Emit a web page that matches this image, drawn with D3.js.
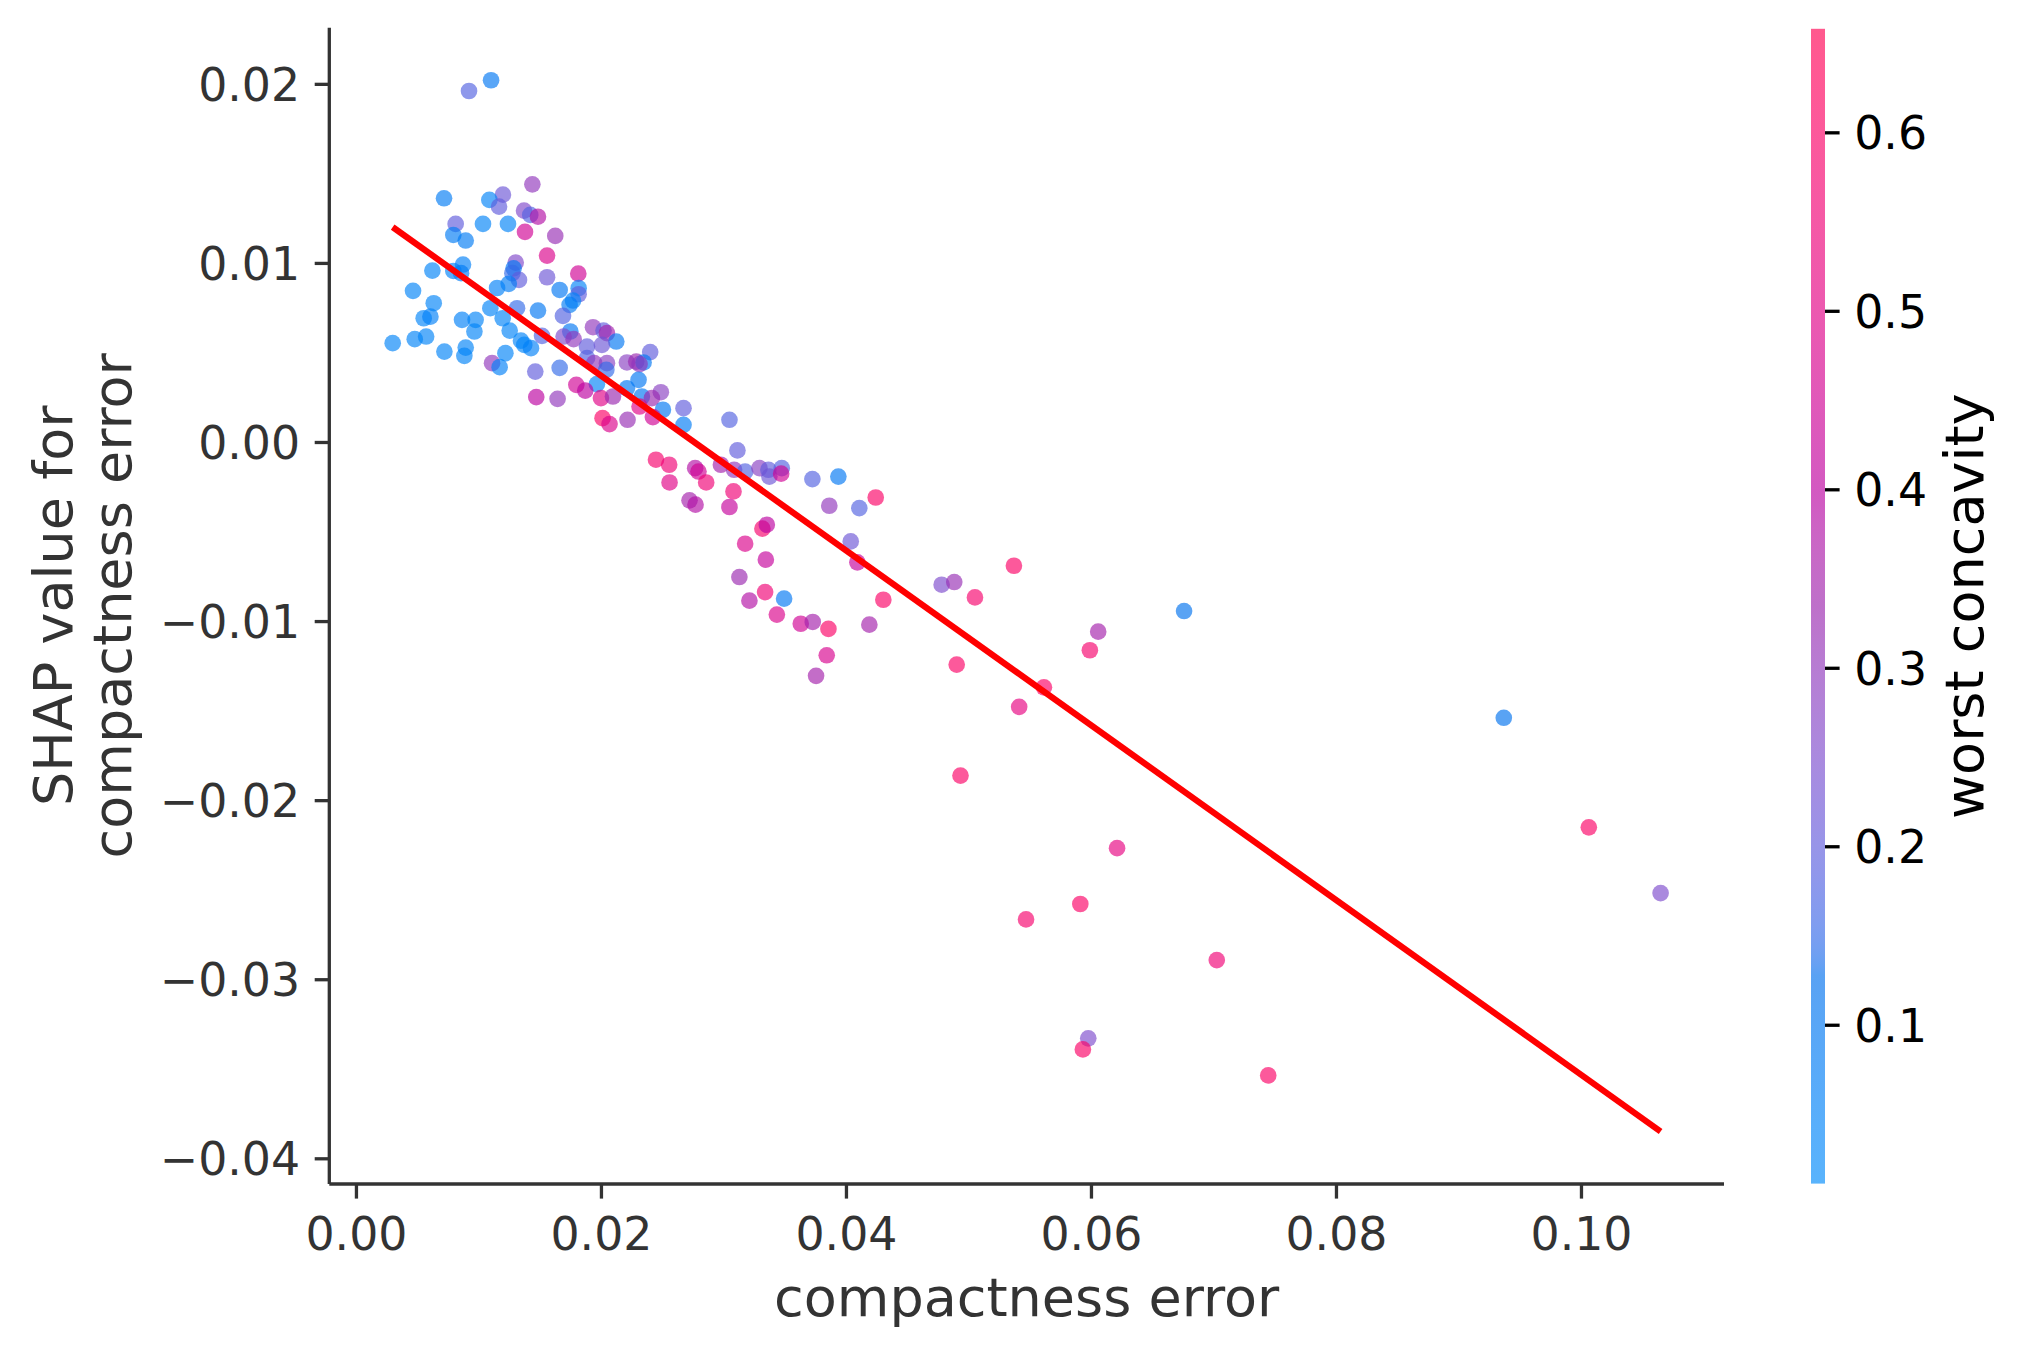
<!DOCTYPE html>
<html><head><meta charset="utf-8">
<script src="https://cdn.jsdelivr.net/npm/d3@7"></script>
<style>html,body{margin:0;padding:0;background:#fff;} svg{display:block;font-family:"DejaVu Sans",sans-serif;}</style>
</head><body><div id="chart"></div>
<script>
// ---- data ----
const compactnessError = [
0.00923,0.01103,0.00719,0.0144,0.0120,0.01089,0.01168,0.01372,0.01423,0.01486,
0.00814,0.01037,0.01241,0.0138,0.01627,0.00795,0.00896,0.0156,0.01304,0.01287,
0.01277,0.01331,0.01247,0.0156,0.01815,0.01663,0.01818,0.01818,0.01772,0.01744,
0.00624,0.00795,0.00874,0.00858,0.00466,0.00635,0.01152,0.01097,0.01315,0.01486,
0.00553,0.00608,0.0030,0.0048,0.00573,0.00722,0.00866,0.00977,0.00967,0.00896,
0.00885,0.01198,0.01255,0.01347,0.01374,0.01429,0.01519,0.0122,0.01111,0.01173,
0.01464,0.01663,0.0169,0.0175,0.01695,0.01777,0.01886,0.01935,0.02021,0.02049,
0.02125,0.02008,0.01886,0.01945,0.02049,0.02044,0.01967,0.01799,0.01872,0.0200,
0.02098,0.01472,0.01646,0.02013,0.0207,0.02402,0.02212,0.02288,0.02348,0.02315,
0.02307,0.02212,0.02334,0.02489,0.02416,0.02506,0.02674,0.02674,0.03049,0.02315,
0.02424,0.02217,0.03114,0.02449,0.02557,0.0256,0.02769,0.02796,0.02859,0.02979,
0.03087,0.03177,0.03294,0.03367,0.03375,0.03476,0.03471,0.03726,0.03938,0.03082,
0.03049,0.02723,0.02772,0.03864,0.03318,0.03354,0.03177,0.03346,0.0313,0.03212,
0.0334,0.03495,0.03436,0.03631,0.03729,0.03857,0.03843,0.03756,0.04243,0.04109,
0.04039,0.04093,0.04305,0.04191,0.04781,0.04884,0.05053,0.05371,0.04904,0.06059,
0.05991,0.05616,0.05414,0.0676,0.0937,0.04935,0.10064,0.06213,0.1065,0.05913,
0.0547,0.07027,0.05978,0.05934,0.07447
];
const shapValues = [
0.0196,0.0202,0.01361,0.01439,0.01381,0.01352,0.01314,0.01292,0.01268,0.01258,
0.01218,0.01218,0.01218,0.01173,0.01151,0.01156,0.01125,0.01041,0.01002,0.0097,
0.00943,0.00905,0.00883,0.0092,0.0094,0.00849,0.00859,0.00825,0.0079,0.00766,
0.00957,0.00955,0.00991,0.00943,0.00844,0.00775,0.0086,0.00747,0.00747,0.00734,
0.00691,0.0070,0.00552,0.00574,0.00589,0.00505,0.00682,0.00682,0.00617,0.00527,
0.00481,0.00691,0.00622,0.00566,0.00542,0.00524,0.00593,0.00496,0.0044,0.00418,
0.00393,0.00414,0.00704,0.00617,0.00589,0.00574,0.00533,0.00641,0.00622,0.00608,
0.00561,0.00542,0.00468,0.0044,0.0044,0.00403,0.00323,0.00319,0.00287,0.00245,
0.00254,0.00251,0.00241,0.00133,0.0010,0.00502,0.00444,0.00449,0.00444,0.00435,
0.00347,0.0030,0.00254,0.00278,0.00245,0.0018,0.00189,0.00096,0.00124,0.00198,
0.00139,0.00124,-0.00047,-0.00099,-0.00127,-0.00226,-0.00146,-0.00165,-0.00226,-0.00127,
-0.00155,-0.00165,-0.00146,-0.00155,-0.00193,-0.00146,-0.00177,-0.00207,-0.00193,-0.00276,
-0.00363,-0.00326,-0.0035,-0.00356,-0.00484,-0.00462,-0.00568,-0.00657,-0.00754,-0.00886,
-0.00838,-0.00875,-0.00964,-0.01015,-0.01005,-0.01044,-0.01191,-0.01306,-0.0031,-0.00369,
-0.00555,-0.00672,-0.00881,-0.0102,-0.00797,-0.00782,-0.00868,-0.00691,-0.01243,-0.01059,
-0.01163,-0.0137,-0.01479,-0.00944,-0.0154,-0.01863,-0.02152,-0.02268,-0.02519,-0.0258,
-0.02666,-0.02893,-0.0333,-0.03392,-0.03537
];
const worstConcavity = [
0.18,0.10,0.08,0.30,0.22,0.05,0.20,0.26,0.18,0.38,
0.20,0.05,0.05,0.45,0.32,0.08,0.08,0.48,0.26,0.10,
0.15,0.20,0.08,0.22,0.45,0.10,0.05,0.20,0.05,0.08,
0.05,0.05,0.06,0.08,0.05,0.05,0.06,0.05,0.15,0.10,
0.04,0.06,0.05,0.05,0.05,0.05,0.06,0.05,0.05,0.05,
0.05,0.05,0.05,0.05,0.04,0.06,0.18,0.05,0.30,0.06,
0.20,0.15,0.18,0.10,0.25,0.30,0.20,0.30,0.20,0.35,
0.10,0.22,0.18,0.30,0.28,0.15,0.05,0.45,0.40,0.50,
0.33,0.40,0.30,0.60,0.48,0.20,0.28,0.33,0.10,0.30,
0.10,0.10,0.10,0.28,0.33,0.10,0.20,0.08,0.18,0.50,
0.45,0.32,0.20,0.58,0.55,0.50,0.38,0.45,0.55,0.35,
0.30,0.18,0.28,0.20,0.22,0.18,0.45,0.18,0.10,0.55,
0.42,0.35,0.38,0.30,0.58,0.40,0.48,0.42,0.33,0.38,
0.55,0.10,0.48,0.45,0.35,0.60,0.47,0.35,0.60,0.18,
0.22,0.42,0.60,0.35,0.25,0.32,0.58,0.60,0.60,0.35,
0.58,0.60,0.52,0.12,0.12,0.60,0.60,0.52,0.25,0.60,
0.58,0.55,0.25,0.60,0.60
];
const trendX = [0.0030, 0.1065];
const trendY = [0.0120, -0.0385];
const xTicks = [0, 0.02, 0.04, 0.06, 0.08, 0.10];
const yTicks = [-0.04, -0.03, -0.02, -0.01, 0, 0.01, 0.02];
const colorTicks = [0.1, 0.2, 0.3, 0.4, 0.5, 0.6];
const colorRange = [0.011, 0.658];
const xLabel = "compactness error";
const yLabelLines = ["SHAP value for", "compactness error"];
const colorLabel = "worst concavity";

// ---- shap red_blue colormap (Lch interpolation, D65) ----
function lch2rgb(L, C, H) {
  const a = C * Math.cos(H), b = C * Math.sin(H);
  const fy = (L + 16) / 116, fx = fy + a / 500, fz = fy - b / 200;
  const finv = t => t > 6/29 ? t*t*t : 3*(6/29)*(6/29)*(t - 4/29);
  const X = 0.95047 * finv(fx), Y = finv(fy), Z = 1.08883 * finv(fz);
  let r = 3.2404542*X - 1.5371385*Y - 0.4985314*Z;
  let g = -0.9692660*X + 1.8760108*Y + 0.0415560*Z;
  let bb = 0.0556434*X - 0.2040259*Y + 1.0572252*Z;
  const gam = c => c > 0.0031308 ? 1.055*Math.pow(c, 1/2.4) - 0.055 : 12.92*c;
  return [r, g, bb].map(c => Math.round(255 * Math.max(0, Math.min(1, gam(c)))));
}
function redBlue(t) {
  t = Math.max(0, Math.min(1, t));
  const L = t <= 0.5 ? 54 + (40 - 54) * (t / 0.5) : 40 + (54 - 40) * ((t - 0.5) / 0.5);
  const C = 70 + (90 - 70) * t;
  const H = 4.6588 + ((0.35470565 + 2 * Math.PI) - 4.6588) * t;
  const [r, g, b] = lch2rgb(L, C, H);
  return `rgb(${r},${g},${b})`;
}

// ---- layout ----
const W = 2026, H = 1357;
const plot = {left: 329.3, right: 1724, top: 27.7, bottom: 1184};
const cbar = {x: 1811, w: 14, top: 28.8, bottom: 1183.6};
const ALPHA = 0.65;

const svg = d3.select("#chart").append("svg").attr("width", W).attr("height", H);
svg.append("rect").attr("width", W).attr("height", H).attr("fill", "#fff");

const xs = compactnessError.concat(trendX), ys = shapValues.concat(trendY);
const [xmin, xmax] = d3.extent(xs), [ymin, ymax] = d3.extent(ys);
const mx = 0.05 * (xmax - xmin), my = 0.05 * (ymax - ymin);
const x = d3.scaleLinear().domain([xmin - mx, xmax + mx]).range([plot.left, plot.right]);
const y = d3.scaleLinear().domain([ymin - my, ymax + my]).range([plot.bottom, plot.top]);
const cnorm = d3.scaleLinear().domain(colorRange).range([0, 1]).clamp(true);

const axisColor = "#333333";
const tickFont = 45.8, labelFont = 54;

// points
const pts = compactnessError.map((d, i) => ({x: d, y: shapValues[i], c: worstConcavity[i]}));
svg.append("g").selectAll("circle").data(pts).join("circle")
  .attr("cx", d => x(d.x)).attr("cy", d => y(d.y)).attr("r", 8.33)
  .attr("fill", d => redBlue(cnorm(d.c))).attr("fill-opacity", ALPHA);

// trend line
svg.append("path")
  .datum(trendX.map((d, i) => [d, trendY[i]]))
  .attr("d", d3.line().x(d => x(d[0])).y(d => y(d[1])))
  .attr("stroke", "#ff0000").attr("stroke-width", 6.25).attr("fill", "none");

// axes
const xAxis = svg.append("g").attr("transform", `translate(0,${plot.bottom})`)
  .call(d3.axisBottom(x).tickValues(xTicks).tickFormat(d3.format(".2f")).tickSizeInner(14.6).tickSizeOuter(0).tickPadding(14.6));
const yAxis = svg.append("g").attr("transform", `translate(${plot.left},0)`)
  .call(d3.axisLeft(y).tickValues(yTicks).tickFormat(d3.format(".2f")).tickSizeInner(14.6).tickSizeOuter(0).tickPadding(14.6));
[xAxis, yAxis].forEach(a => {
  a.select(".domain").attr("stroke", axisColor).attr("stroke-width", 3.3);
  a.selectAll(".tick line").attr("stroke", axisColor).attr("stroke-width", 3.3);
  a.selectAll(".tick text").attr("fill", axisColor).attr("font-size", tickFont).attr("font-family", "DejaVu Sans");
});
xAxis.select(".domain").attr("d", `M${plot.left},0H${plot.right}`);
yAxis.select(".domain").attr("d", `M0,${plot.top}V${plot.bottom}`);
xAxis.selectAll(".tick text").attr("dy", null).attr("y", 66);
yAxis.selectAll(".tick text").attr("dy", "0.36em");

// axis labels
svg.append("text").attr("x", (plot.left + plot.right) / 2).attr("y", 1316)
  .attr("text-anchor", "middle").attr("font-size", labelFont).attr("fill", axisColor).text(xLabel);
const ylab = svg.append("g").attr("transform", `translate(0,${(plot.top + plot.bottom) / 2}) rotate(-90)`);
yLabelLines.forEach((t, i) => {
  ylab.append("text").attr("x", 0).attr("y", 72 + i * 59).attr("text-anchor", "middle")
    .attr("font-size", labelFont).attr("fill", axisColor).text(t);
});

// colorbar
const grad = svg.append("defs").append("linearGradient").attr("id", "cb")
  .attr("x1", 0).attr("y1", 1).attr("x2", 0).attr("y2", 0);
d3.range(0, 101).forEach(i => {
  grad.append("stop").attr("offset", i / 100).attr("stop-color", redBlue(i / 100)).attr("stop-opacity", ALPHA);
});
svg.append("rect").attr("x", cbar.x).attr("y", cbar.top).attr("width", cbar.w)
  .attr("height", cbar.bottom - cbar.top).attr("fill", "url(#cb)");
const cy = d3.scaleLinear().domain(colorRange).range([cbar.bottom, cbar.top]);
const cAxis = svg.append("g").attr("transform", `translate(${cbar.x + cbar.w},0)`)
  .call(d3.axisRight(cy).tickValues(colorTicks).tickFormat(d3.format(".1f")).tickSizeInner(14.6).tickSizeOuter(0).tickPadding(14.6));
cAxis.select(".domain").remove();
cAxis.selectAll(".tick line").attr("stroke", "#000").attr("stroke-width", 3.3);
cAxis.selectAll(".tick text").attr("fill", "#000").attr("font-size", tickFont).attr("font-family", "DejaVu Sans").attr("dy", "0.36em");
svg.append("text").attr("transform", `translate(1983,${(cbar.top + cbar.bottom) / 2}) rotate(-90)`)
  .attr("text-anchor", "middle").attr("font-size", labelFont).attr("fill", "#000").text(colorLabel);
</script></body></html>
